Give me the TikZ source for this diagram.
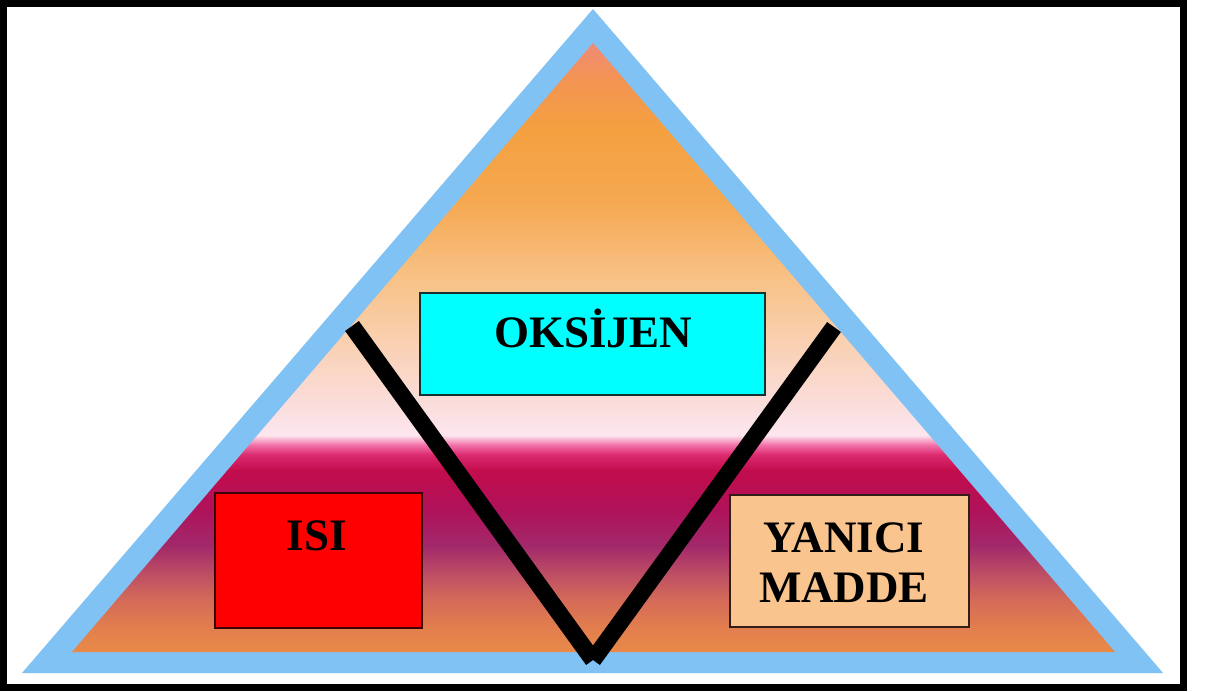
\documentclass[tikz,border=0pt]{standalone}
\usepackage{fontspec}
\setmainfont{Liberation Serif}
\definecolor{triblue}{HTML}{80C2F4}
\definecolor{sA}{HTML}{E88A48}
\definecolor{sB}{HTML}{E27E4E}
\definecolor{sC}{HTML}{D46A58}
\definecolor{sD}{HTML}{BE5064}
\definecolor{sE}{HTML}{A2286A}
\definecolor{sF}{HTML}{B0125A}
\definecolor{sG}{HTML}{C20C4C}
\definecolor{sH}{HTML}{DC2A70}
\definecolor{sI}{HTML}{F270A8}
\definecolor{sJ}{HTML}{FCE6EE}
\definecolor{sK}{HTML}{FBE2E6}
\definecolor{sL}{HTML}{FADAD2}
\definecolor{sM}{HTML}{F9D0B0}
\definecolor{sN}{HTML}{F8C288}
\definecolor{sO}{HTML}{F5A850}
\definecolor{sP}{HTML}{F4A040}
\definecolor{sQ}{HTML}{F39452}
\definecolor{sR}{HTML}{F08A78}
\definecolor{oxcyan}{HTML}{00FFFF}
\definecolor{heatred}{HTML}{FF0000}
\definecolor{fuelpeach}{HTML}{FAC48E}
\pgfdeclareverticalshading{fireshade}{100bp}{color(0bp)=(sA); color(25bp)=(sA); color(27bp)=(sB); color(29.3bp)=(sC); color(31.3bp)=(sD); color(33.8bp)=(sE); color(36.7bp)=(sF); color(39.9bp)=(sG); color(41.2bp)=(sH); color(42bp)=(sI); color(42.8bp)=(sJ); color(44bp)=(sK); color(46.5bp)=(sL); color(50.6bp)=(sM); color(55.5bp)=(sN); color(62.1bp)=(sO); color(67.9bp)=(sP); color(72bp)=(sQ); color(75bp)=(sR); color(100bp)=(sR)}
\tikzset{
  boxnode/.style={draw, line width=2, rectangle, inner sep=0},
  lbl/.style={inner sep=0, anchor=base, font=\fontsize{45}{50}\selectfont\bfseries, text=black},
  vbar/.style={line width=17, black, line cap=butt}
}
\begin{document}
\begin{tikzpicture}[x=1pt,y=-1pt]
\useasboundingbox (0,0) rectangle (1205,691);
\fill[white] (0,0) rectangle (1205,691);
\draw[line width=7, black] (3.5,3.5) rectangle (1183.5,687.5);
% triangle
\fill[triblue] (22,673) -- (1163,673) -- (593,9) -- cycle;
\shade[shading=fireshade] (72,652) -- (1115,652) -- (593,43) -- cycle;
% boxes
\node[boxnode, fill=oxcyan, draw={rgb,255:red,20;green,50;blue,50}, minimum width=345, minimum height=102] (oksbox) at (592.5,344) {};
\node[boxnode, fill=heatred, draw={rgb,255:red,60;green,0;blue,0}, minimum width=207, minimum height=135] (isibox) at (318.5,560.5) {};
\node[boxnode, fill=fuelpeach, draw={rgb,255:red,50;green,30;blue,20}, minimum width=239, minimum height=132] (fuelbox) at (849.5,561) {};
% labels
\node[lbl] (okstxt) at (593,347) {OKSİJEN};
\node[lbl] (isitxt) at (317,550) {ISI};
\node[lbl] (fuel1) at (844,552) {YANICI};
\node[lbl] (fuel2) at (844,602) {MADDE};
% V
\coordinate (vl) at (352,326);
\coordinate (vt) at (593,660);
\coordinate (vr) at (834,327);
\draw[vbar] (vl) -- (vt);
\draw[vbar] (vr) -- (vt);
\end{tikzpicture}
\end{document}
